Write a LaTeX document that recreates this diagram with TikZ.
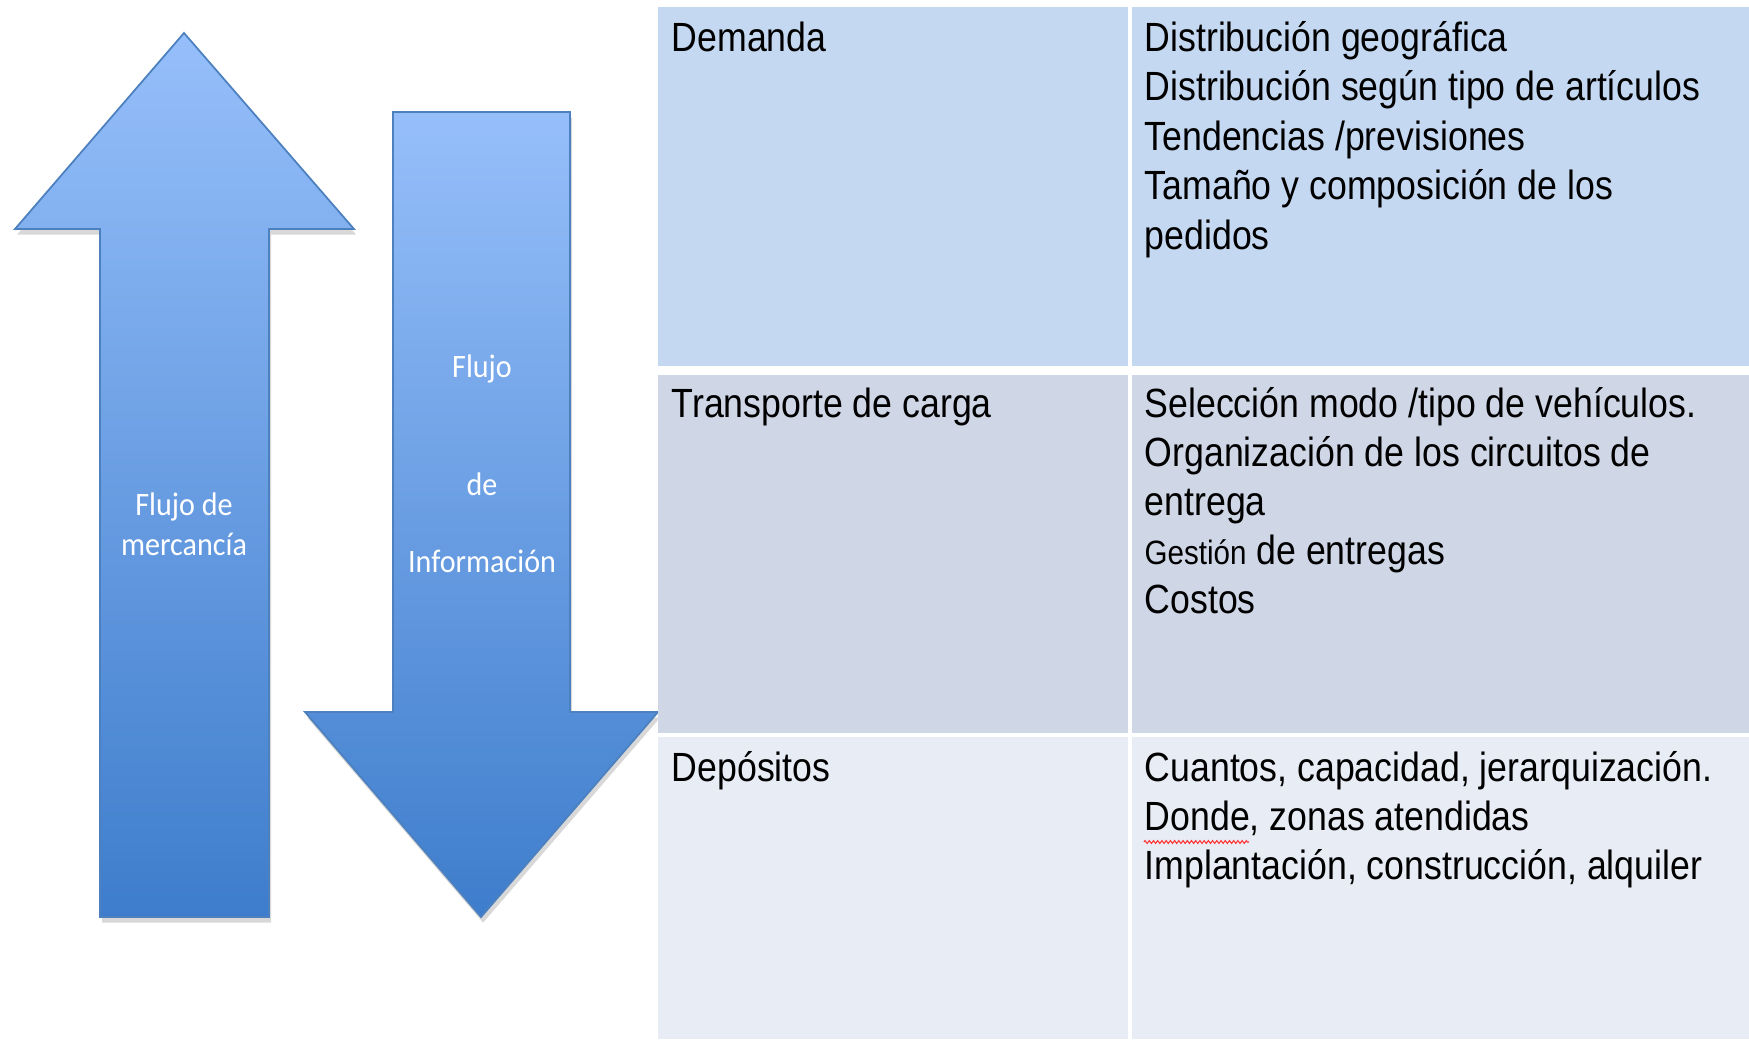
\documentclass[tikz,border=0pt]{standalone}
\usepackage{fontspec}
\usetikzlibrary{shadows,decorations.pathmorphing}
\setmainfont{Liberation Sans}[FakeStretch=0.875]
\newfontfamily\arrowfont{Carlito}[FakeStretch=0.92]

\definecolor{arrowtop}{RGB}{150,191,250}
\definecolor{arrowbot}{RGB}{62,125,204}
\definecolor{arrowline}{RGB}{76,128,190}
\definecolor{rowone}{RGB}{197,216,241}
\definecolor{rowtwo}{RGB}{207,214,230}
\definecolor{rowthree}{RGB}{232,236,245}

\begin{document}
\begin{tikzpicture}[x=0.01cm, y=-0.01cm,
		flow/.style={top color=arrowtop, bottom color=arrowbot, draw=arrowline, line width=0.5pt,
			drop shadow={opacity=0.3, shadow xshift=0.6pt, shadow yshift=-1.6pt}},
		flowtext/.style={text=white, font=\arrowfont\fontsize{9.3}{10}\selectfont, inner sep=0, anchor=base},
		celltext/.style={font=\fontsize{11.6}{13}\selectfont, inner sep=0, anchor=base west}]
			%page
			\fill[white]
				(0, 0) rectangle (1749, 1039);
			\useasboundingbox
				(0, 0) rectangle (1749, 1039);

			% up arrow
			\path[flow]
				(184, 33) -- (354, 229) -- (269, 229) -- (269, 917)
				-- (100, 917) -- (100, 229) -- (15, 229) -- cycle;
			\node[flowtext] (up1) at (184, 515)
				{Flujo de};
			\node[flowtext] (up2) at (184, 555)
				{mercancía};

			% down arrow
			\path[flow]
				(393, 112) -- (570, 112) -- (570, 712) -- (658, 712)
				-- (481, 917) -- (305, 712) -- (393, 712) -- cycle;
			\node[flowtext] (down1) at (482, 377)
				{Flujo};
			\node[flowtext] (down2) at (482, 495)
				{de};
			\node[flowtext] (down3) at (482, 572)
				{Información};

			% table
			\fill[rowone]
				(658, 7) rectangle (1749, 366);
			\fill[rowtwo]
				(658, 375) rectangle (1749, 733);
			\fill[rowthree]
				(658, 737) rectangle (1749, 1039);
			\draw[white, line width=0.9pt]
				(1130, 7) -- (1130, 1039);

			% row 1
			\node[celltext] (dem) at (671, 51)
				{Demanda};
			\node[celltext] (dem1) at (1144, 51)
				{Distribución geográfica};
			\node[celltext] (dem2) at (1144, 100.5)
				{Distribución según tipo de artículos};
			\node[celltext] (dem3) at (1144, 150)
				{Tendencias /previsiones};
			\node[celltext] (dem4) at (1144, 199.5)
				{Tamaño y composición de los};
			\node[celltext] (dem5) at (1144, 249)
				{pedidos};

			% row 2
			\node[celltext] (tra) at (671, 417)
				{Transporte de carga};
			\node[celltext] (tra1) at (1144, 417)
				{Selección modo /tipo de vehículos.};
			\node[celltext] (tra2) at (1144, 466)
				{Organización de los circuitos de};
			\node[celltext] (tra3) at (1144, 515)
				{entrega};
			\node[celltext] (tra4) at (1144, 564)
				{{\fontsize{9.6}{11}\selectfont Gestión} de entregas};
			\node[celltext] (tra5) at (1144, 613)
				{Costos};

			% row 3
			\node[celltext] (dep) at (671, 781)
				{Depósitos};
			\node[celltext] (dep1) at (1144, 781)
				{Cuantos, capacidad, jerarquización.};
			\node[celltext] (dep2) at (1144, 830)
				{Donde, zonas atendidas};
			\node[celltext] (dep3) at (1144, 879)
				{Implantación, construcción, alquiler};
			\draw[red!80, line width=0.3pt, decorate,
				decoration={zigzag, amplitude=0.4pt, segment length=1.2pt}]
				(dep2.base west) ++(0, 12) -- ++(105, 0);

		\end{tikzpicture}
\end{document}
